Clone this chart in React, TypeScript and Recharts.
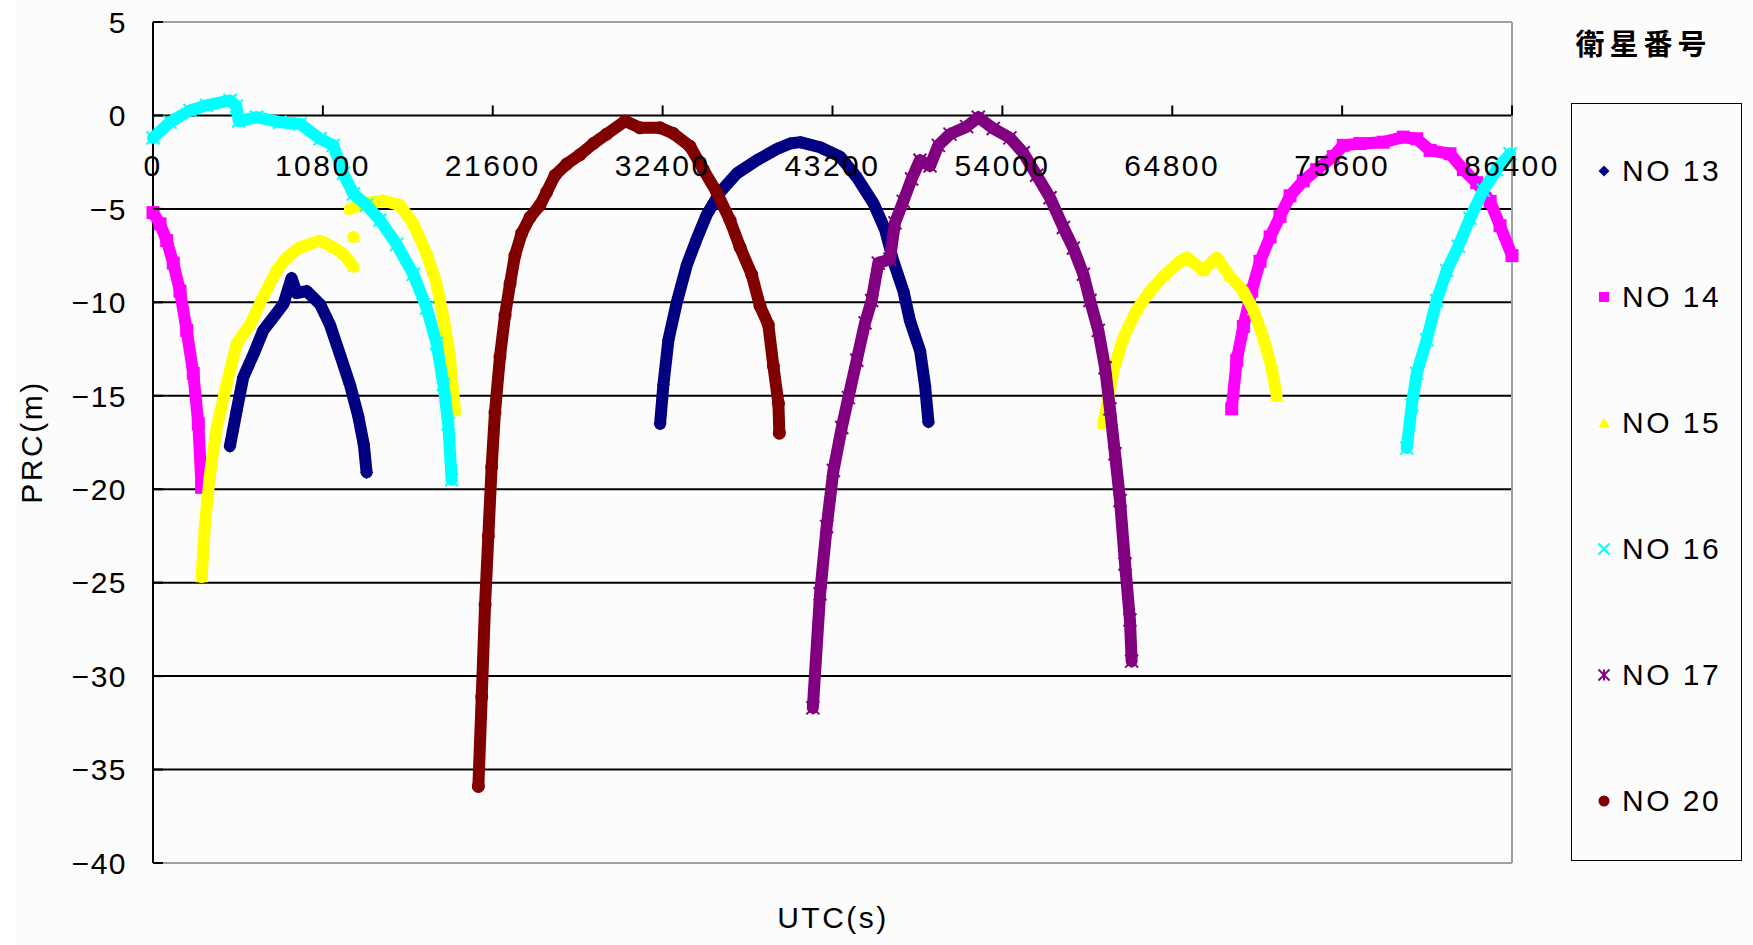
import React from 'react'
import { ScatterChart, Scatter, XAxis, YAxis, CartesianGrid, ReferenceLine } from 'recharts'

// [UTC (s), PRC (m)] — one array per visible pass
const no13Pass1 = [[4890, -17.7], [5320, -15.8], [5740, -14.0], [6380, -12.8], [7010, -11.5], [7650, -10.8], [8290, -10.1], [8810, -8.7], [9130, -9.5], [9770, -9.4], [10620, -10.1], [11250, -11.2], [11890, -12.8], [12520, -14.4], [13050, -16.1], [13400, -17.6], [13580, -19.1]]
const no13Pass2 = [[32240, -16.5], [32450, -14.4], [32770, -12.0], [33300, -10.0], [33940, -8.0], [34570, -6.6], [35210, -5.3], [36060, -4.1], [37120, -3.1], [38390, -2.4], [39660, -1.8], [40510, -1.5], [41140, -1.43], [42410, -1.7], [43680, -2.2], [44740, -3.3], [45800, -4.7], [46540, -6.1], [47070, -7.8], [47710, -9.4], [48130, -11.0], [48770, -12.6], [49090, -14.5], [49300, -16.4]]

const no14Pass1 = [[0, -5.2], [445, -5.8], [870, -6.7], [1290, -7.9], [1716, -9.4], [2140, -11.5], [2560, -13.8], [2880, -16.5], [3090, -19.9]]
const no14Pass2 = [[68580, -15.7], [68900, -13.1], [69320, -11.3], [69850, -9.4], [70380, -7.8], [71020, -6.5], [71650, -5.4], [72290, -4.3], [73130, -3.5], [73980, -2.9], [75040, -2.2], [75670, -1.6], [76730, -1.5], [78210, -1.43], [79490, -1.16], [80340, -1.25], [81190, -1.87], [82460, -2.05], [83310, -2.9], [84160, -3.6], [85010, -4.6], [85640, -5.9], [86400, -7.5]]

const no15Pass1a = [[3090, -24.7], [3300, -21.9], [3620, -19.2], [4050, -16.7], [4680, -14.4], [5320, -12.2], [6170, -11.2], [7010, -9.7], [7860, -8.3], [8500, -7.6], [9350, -7.05], [10620, -6.7], [11460, -7.05], [12100, -7.4], [12740, -8.1]]
const no15Stray = [[12740, -6.5]]
const no15Pass1b = [[12520, -5.0], [13580, -4.7], [14640, -4.55], [15700, -4.8], [16550, -5.8], [17400, -7.4], [18030, -9.0], [18460, -10.8], [18880, -12.9], [19200, -15.8]]
const no15Pass2 = [[60420, -16.5], [61060, -13.65], [61690, -11.9], [62540, -10.4], [63390, -9.4], [64240, -8.6], [65300, -7.8], [65720, -7.6], [66780, -8.3], [67620, -7.6], [68470, -8.6], [69320, -9.4], [69960, -10.4], [70590, -11.9], [71120, -13.5], [71440, -15.0]]

const no16Pass1 = [[0, -1.2], [1080, -0.36], [2350, 0.27], [3410, 0.54], [4900, 0.8], [5300, 0.5], [5450, -0.3], [6590, -0.09], [8070, -0.36], [9350, -0.45], [10620, -1.25], [11460, -1.6], [12100, -3.1], [12740, -4.2], [13580, -4.8], [14430, -5.6], [15490, -6.9], [16550, -8.5], [17400, -10.3], [18030, -12.2], [18460, -14.4], [18770, -16.5], [18990, -19.5]]
const no16Pass2 = [[79710, -17.8], [80030, -15.5], [80340, -13.8], [80980, -12.0], [81610, -9.9], [82250, -8.3], [82990, -7.0], [83730, -5.5], [84580, -4.0], [85430, -2.9], [86280, -2.05]]

const no17Pass = [[41950, -31.7], [42410, -25.6], [42830, -22.0], [43260, -19.0], [43790, -16.7], [44210, -15.1], [44740, -13.1], [45270, -11.1], [45690, -9.9], [46110, -7.9], [46850, -7.7], [47170, -5.75], [47700, -4.6], [48230, -3.4], [48760, -2.4], [49400, -2.7], [49930, -1.6], [50670, -1.0], [51730, -0.6], [52470, -0.1], [53420, -0.7], [54480, -1.2], [55330, -2.0], [56180, -3.2], [57030, -4.4], [57880, -6.0], [58510, -7.1], [59150, -8.5], [59570, -9.9], [60100, -11.5], [60530, -13.5], [60840, -15.7], [61160, -18.1], [61480, -20.6], [61800, -24.0], [62110, -27.0], [62220, -29.2]]

const no20Pass = [[20685, -35.9], [20900, -31.1], [21110, -26.2], [21320, -22.5], [21530, -18.8], [21740, -15.9], [22060, -12.9], [22380, -10.7], [22700, -9.0], [23010, -7.5], [23440, -6.3], [23970, -5.45], [24600, -4.8], [25030, -4.1], [25560, -3.2], [26300, -2.6], [27150, -2.1], [28000, -1.5], [28840, -1.0], [30010, -0.3], [30960, -0.66], [32230, -0.66], [33080, -0.96], [34140, -1.65], [34990, -2.9], [35830, -4.1], [36680, -5.6], [37320, -7.05], [38060, -8.5], [38590, -10.2], [39120, -11.2], [39440, -13.4], [39760, -15.4], [39820, -17.0]]

const xTicks = [0, 10800, 21600, 32400, 43200, 54000, 64800, 75600, 86400]
const yTicks = [5, 0, -5, -10, -15, -20, -25, -30, -35, -40]

const series = [
    { name: 'NO 13', color: '#000080', marker: 'diamond', passes: [no13Pass1, no13Pass2] },
    { name: 'NO 14', color: '#ff00ff', marker: 'square', passes: [no14Pass1, no14Pass2] },
    { name: 'NO 15', color: '#ffff00', marker: 'triangle', passes: [no15Pass1a, no15Stray, no15Pass1b, no15Pass2] },
    { name: 'NO 16', color: '#00ffff', marker: 'cross', passes: [no16Pass1, no16Pass2] },
    { name: 'NO 17', color: '#800080', marker: 'star', passes: [no17Pass] },
    { name: 'NO 20', color: '#800000', marker: 'circle', passes: [no20Pass] },
]

const W = 1753
const H = 945
const MARGIN = { top: 22, right: 241, bottom: 81, left: 53 }
const X_AXIS_H = 1
const Y_AXIS_W = 100
const PLOT_LEFT = MARGIN.left + Y_AXIS_W
const PLOT_TOP = MARGIN.top
const PLOT_H = H - MARGIN.top - MARGIN.bottom - X_AXIS_H
const Y_MAX = 5
const Y_MIN = -40
// x axis crosses at PRC = 0
const ZERO_Y = PLOT_TOP + (Y_MAX / (Y_MAX - Y_MIN)) * PLOT_H

const FONT = '"Liberation Sans", Arial, sans-serif'

function Marker({ cx, cy, kind, color, size }: any) {
    if (cx == null || cy == null) return null
    const s = size / 2
    switch (kind) {
        case 'diamond':
            return <polygon points={`${cx},${cy - s} ${cx + s},${cy} ${cx},${cy + s} ${cx - s},${cy}`} fill={color} />
        case 'square':
            return <rect x={cx - s} y={cy - s} width={size} height={size} fill={color} />
        case 'triangle':
            return <polygon points={`${cx},${cy - s} ${cx + s},${cy + s * 0.8} ${cx - s},${cy + s * 0.8}`} fill={color} />
        case 'cross':
            return (
                <g stroke={color} strokeWidth={2}>
                    <line x1={cx - s} y1={cy - s} x2={cx + s} y2={cy + s} />
                    <line x1={cx - s} y1={cy + s} x2={cx + s} y2={cy - s} />
                </g>
            )
        case 'star':
            return (
                <g stroke={color} strokeWidth={2}>
                    <line x1={cx - s} y1={cy - s} x2={cx + s} y2={cy + s} />
                    <line x1={cx - s} y1={cy + s} x2={cx + s} y2={cy - s} />
                    <line x1={cx} y1={cy - s} x2={cx} y2={cy + s} />
                </g>
            )
        default:
            return <circle cx={cx} cy={cy} r={s} fill={color} />
    }
}

function XTick({ x, payload }: any) {
    return (
        <g>
            <line x1={x} x2={x} y1={ZERO_Y - 10} y2={ZERO_Y} stroke="#000" strokeWidth={2} />
            <text x={x} y={ZERO_Y + 61} textAnchor="middle" fontSize={30} letterSpacing={2.5} fontFamily={FONT} fill="#000">
                {payload.value}
            </text>
        </g>
    )
}

function YTick({ y, payload }: any) {
    const v = payload.value
    const label = v < 0 ? `\u2212${Math.abs(v)}` : `${v}`
    return (
        <g>
            <line x1={PLOT_LEFT} x2={PLOT_LEFT + 10} y1={y} y2={y} stroke="#000" strokeWidth={2} />
            <text x={PLOT_LEFT - 26} y={y} dy="0.36em" textAnchor="end" fontSize={30} letterSpacing={1.5} fontFamily={FONT} fill="#000">
                {label}
            </text>
        </g>
    )
}

function LegendBox() {
    return (
        <div style={{ position: 'absolute', left: 0, top: 0, width: W, height: H, pointerEvents: 'none', fontFamily: FONT }}>
            <div style={{ position: 'absolute', left: 1571, top: 20, width: 145, textAlign: 'center', fontFamily: '"Noto Sans CJK JP", sans-serif', fontWeight: 700, fontSize: 29, letterSpacing: 5, lineHeight: '44px' }}>
                衛星番号
            </div>
            <div style={{ position: 'absolute', left: 1571, top: 103, width: 171, height: 758, border: '1.5px solid #000', boxSizing: 'border-box' }}>
                {series.map((s, i) => (
                    <div key={s.name} style={{ position: 'absolute', left: 22, top: 67 + i * 126 - 20, height: 40, display: 'flex', alignItems: 'center' }}>
                        <svg width={20} height={20} style={{ marginRight: 8 }}>
                            <Marker cx={10} cy={10} kind={s.marker} color={s.color} size={s.marker === 'square' ? 10 : 11} />
                        </svg>
                        <span style={{ fontSize: 30, letterSpacing: 2.5, whiteSpace: 'pre' }}>{s.name}</span>
                    </div>
                ))}
            </div>
        </div>
    )
}

export default function App() {
    return (
        <div style={{ position: 'absolute', left: 0, top: 0, width: W, height: H, background: 'linear-gradient(to right, #fff 16px, #fcfcfc 16px)' }}>
            <ScatterChart width={W} height={H} margin={MARGIN}>
                <CartesianGrid horizontal vertical={false} stroke="#000" strokeWidth={2} />
                <ReferenceLine y={5} stroke="#a0a0a0" strokeWidth={2} />
                <ReferenceLine y={-40} stroke="#a0a0a0" strokeWidth={2} />
                <ReferenceLine x={86400} stroke="#a0a0a0" strokeWidth={2} />
                <XAxis
                    type="number"
                    dataKey="t"
                    domain={[0, 86400]}
                    ticks={xTicks}
                    height={X_AXIS_H}
                    axisLine={false}
                    tickLine={false}
                    tick={<XTick />}
                    interval={0}
                    label={{
                        content: () => (
                            <text x={833} y={928} textAnchor="middle" fontSize={30} letterSpacing={2.5} fontFamily={FONT} fill="#000">
                                UTC(s)
                            </text>
                        ),
                    }}
                />
                <YAxis
                    type="number"
                    dataKey="v"
                    domain={[Y_MIN, Y_MAX]}
                    ticks={yTicks}
                    width={Y_AXIS_W}
                    interval={0}
                    tickSize={0}
                    tickLine={false}
                    axisLine={{ stroke: '#000', strokeWidth: 2 }}
                    tick={<YTick />}
                    label={{
                        content: () => (
                            <text x={42} y={442} transform="rotate(-90 42 442)" textAnchor="middle" fontSize={30} letterSpacing={2.5} fontFamily={FONT} fill="#000">
                                PRC(m)
                            </text>
                        ),
                    }}
                />
                {series.map((s) =>
                    s.passes.map((pass, j) => (
                        <Scatter
                            key={`${s.name}-${j}`}
                            name={s.name}
                            data={pass.map(([t, v]) => ({ t, v }))}
                            fill={s.color}
                            line={{ stroke: s.color, strokeWidth: 12, strokeLinejoin: 'round', strokeLinecap: 'round' }}
                            shape={(p: any) => <Marker cx={p.cx} cy={p.cy} kind={s.marker} color={s.color} size={13} />}
                            isAnimationActive={false}
                        />
                    ))
                )}
            </ScatterChart>
            <LegendBox />
        </div>
    )
}
